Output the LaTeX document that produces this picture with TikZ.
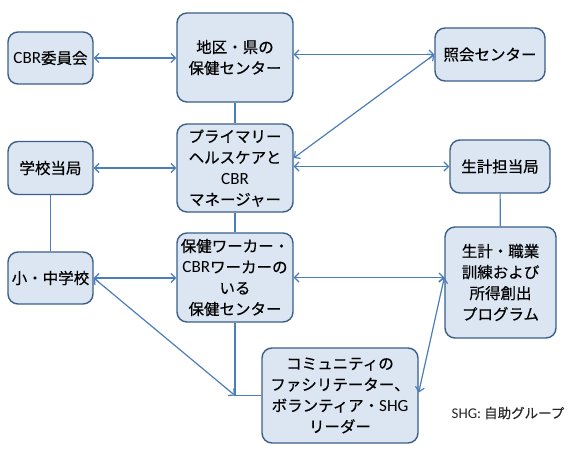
\documentclass[tikz,border=0pt]{standalone}
\usepackage{fontspec}
\setmainfont{Noto Sans CJK JP}[FakeBold=0.4]
\newfontfamily\lat{Carlito}[Scale=1.1]
\usetikzlibrary{arrows.meta}
\definecolor{boxfill}{HTML}{DCE6F2}
\definecolor{boxline}{HTML}{3A5F8B}
\definecolor{linkblue}{HTML}{4A7EBB}
\begin{document}
\begin{tikzpicture}[x=1pt,y=-1pt,
    box/.style={draw=boxline,fill=boxfill,line width=1.4pt,rounded corners=10pt,
      align=center,inner sep=1pt,font=\fontsize{15.5}{21}\selectfont},
    link/.style={draw=linkblue,line width=1.2pt},
    twoway/.style={link,{Straight Barb[length=4.5pt,width=9pt]}-{Straight Barb[length=4.5pt,width=9pt]}}]
  \useasboundingbox (0,0) rectangle (580,460);
  % boxes
  \node[box,minimum width=85pt,minimum height=52pt] (cbr) at (50.5,58) {{\lat CBR}委員会};
  \node[box,minimum width=116pt,minimum height=89pt] (district) at (235,57.5) {地区・県の\\保健センター};
  \node[box,minimum width=110pt,minimum height=53pt] (referral) at (490,54.5) {照会センター};
  \node[box,minimum width=85pt,minimum height=53pt] (authority) at (50.5,168) {学校当局};
  \node[box,minimum width=116pt,minimum height=88pt] (primary) at (235,168) {プライマリー\\ヘルスケアと\\{\lat CBR}\\マネージャー};
  \node[box,minimum width=100pt,minimum height=53pt] (office) at (500,166.5) {生計担当局};
  \node[box,minimum width=85pt,minimum height=52pt] (school) at (50.5,278) {小・中学校};
  \node[box,minimum width=116pt,minimum height=89pt] (health) at (235,277.5) {保健ワーカー・\\{\lat CBR}ワーカーの\\いる\\保健センター};
  \node[box,minimum width=111pt,minimum height=111pt] (program) at (500.5,282.5) {生計・職業\\訓練および\\所得創出\\プログラム};
  \node[box,minimum width=156pt,minimum height=95pt] (community) at (340,395.5) {コミュニティの\\ファシリテーター、\\ボランティア・{\lat SHG}\\リーダー};
  \node[font=\fontsize{13.5}{16}\selectfont,text=black!85] (note) at (508,413) {{\lat SHG:} 自助グループ};
  % links
  \coordinate (jn) at (health.south |- community.west);
  \coordinate (pw) at (health.east -| program.west);
  \draw[twoway] (cbr.east) -- (cbr.east -| district.west);
  \draw[twoway] (district.east |- referral.west) -- (referral.west);
  \draw[twoway] (referral.west) -- ([yshift=10pt]primary.east);
  \draw[twoway] (authority.east) -- (authority.east -| primary.west);
  \draw[twoway] (primary.east |- office.west) -- (office.west);
  \draw[twoway] (school.east) -- (school.east -| health.west);
  \draw[twoway] (health.east) -- (pw);
  \draw[twoway] (school.east) -- (jn);
  \draw[twoway] (pw) -- ([yshift=3pt]community.east);
  \draw[link] (district) -- (primary);
  \draw[link] (primary) -- (health);
  \draw[link] (authority) -- (school);
  \draw[link] (office) -- (program);
  \draw[link] (health.south) -- (jn) -- (community.west);
\end{tikzpicture}
\end{document}
